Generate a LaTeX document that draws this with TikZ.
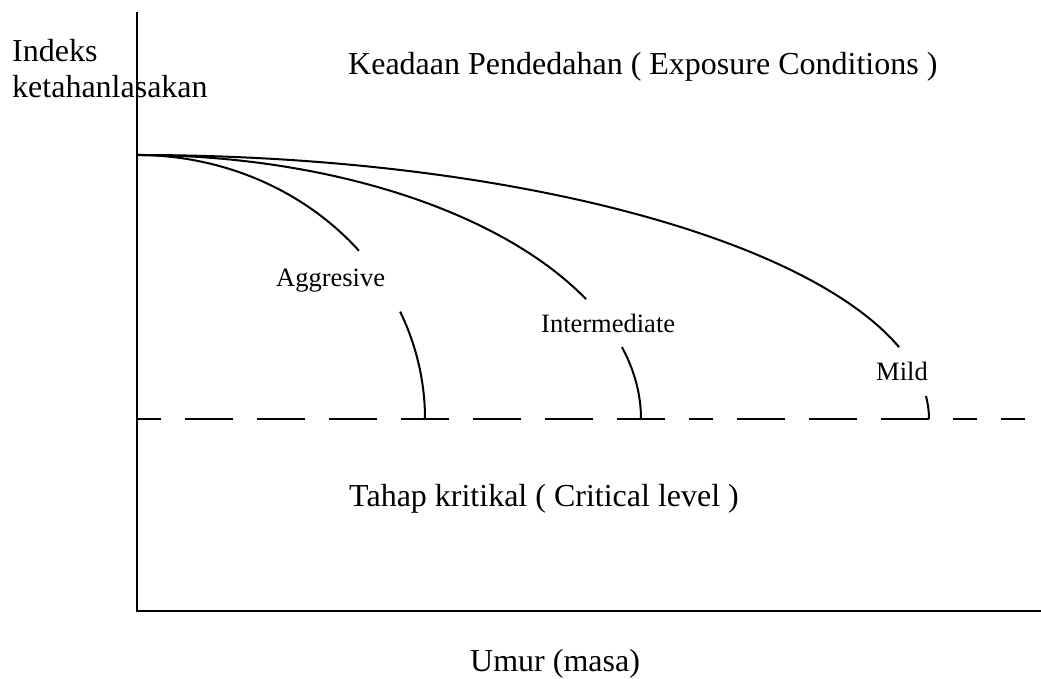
\documentclass[tikz,border=0pt]{standalone}
\usepackage{fontspec}
\setmainfont{Liberation Serif}

\begin{document}
\begin{tikzpicture}[x=1pt, y=1pt,
    axis/.style={line width=2.2pt},
    curve/.style={line width=2pt},
    critline/.style={line width=2pt, dash pattern=on 24pt off 24pt
        on 48pt off 24pt on 48pt off 24pt on 48pt off 24pt on 48pt off 24pt
        on 48pt off 24pt on 48pt off 24pt on 48pt off 24pt
        on 24pt off 24pt
        on 48pt off 24pt on 48pt off 24pt on 48pt off 24pt
        on 24pt off 24pt on 24pt off 200pt},
    big/.style={inner sep=0pt, anchor=base west, font=\fontsize{32}{36}\selectfont},
    small/.style={inner sep=0pt, anchor=base west, font=\fontsize{26.5}{30}\selectfont}]
    \useasboundingbox (0,0) rectangle (1041,679);

    % axes
    \coordinate (ytop) at (137,667);
    \coordinate (orig) at (137,68);
    \coordinate (xend) at (1041,68);
    \draw[axis] (ytop) -- (orig) -- (xend);

    % critical level
    \coordinate (crit) at (137,260);
    \coordinate (critend) at (1025,260);
    \draw[critline] (crit) -- (critend);

    % exposure curves
    \coordinate (start) at (137,524);
    \draw[curve] (start) arc[start angle=90, end angle=39.6, x radius=288, y radius=264];
    \draw[curve] (crit) ++(24:288 and 264) arc[start angle=24, end angle=0, x radius=288, y radius=264];
    \draw[curve] (start) arc[start angle=90, end angle=27, x radius=504, y radius=264];
    \draw[curve] (crit) ++(15.8:504 and 264) arc[start angle=15.8, end angle=0, x radius=504, y radius=264];
    \draw[curve] (start) arc[start angle=90, end angle=15.8, x radius=792, y radius=264];
    \draw[curve] (crit) ++(5:792 and 264) arc[start angle=5, end angle=0, x radius=792, y radius=264];

    % labels
    \node[big] (indeks) at (12,617) {Indeks};
    \node[big] (ketahan) at (12,581) {ketahanlasakan};
    \node[big] (keadaan) at (348,604) {Keadaan Pendedahan ( Exposure Conditions )};
    \node[big] (tahap) at (349,172) {Tahap kritikal ( Critical level )};
    \node[big] (umur) at (470,7) {Umur (masa)};
    \node[small] (aggr) at (276,392) {Aggresive};
    \node[small] (inter) at (541,346) {Intermediate};
    \node[small] (mild) at (876,298) {Mild};
\end{tikzpicture}
\end{document}
